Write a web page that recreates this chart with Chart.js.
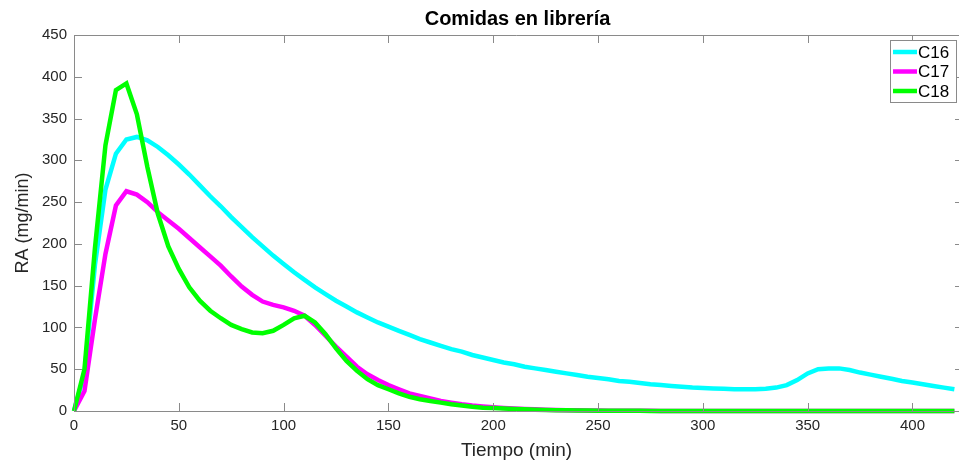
<!DOCTYPE html>
<html>
<head>
<meta charset="utf-8">
<script src="https://cdn.jsdelivr.net/npm/chart.js@4/dist/chart.umd.min.js"></script>
<style>
  html, body { margin: 0; padding: 0; background: #fff; }
  #wrap { width: 959px; height: 462px; }
</style>
</head>
<body>
<div id="wrap"><canvas id="raChart" width="959" height="462"></canvas></div>
<script>
const tiempo = [0, 5, 10, 15, 20, 25, 30, 35, 40, 45, 50, 55, 60, 65, 70, 75, 80, 85, 90, 95,
  100, 105, 110, 115, 120, 125, 130, 135, 140, 145, 150, 155, 160, 165, 170, 175, 180, 185, 190, 195,
  200, 205, 210, 215, 220, 225, 230, 235, 240, 245, 250, 255, 260, 265, 270, 275, 280, 285, 290, 295,
  300, 305, 310, 315, 320, 325, 330, 335, 340, 345, 350, 355, 360, 365, 370, 375, 380, 385, 390, 395,
  400, 405, 410, 415, 420];

const c16 = [0, 45, 175, 265, 308, 325, 328, 324, 316, 306, 295, 283, 270, 257, 245, 232, 220, 208, 197, 186,
  176, 166, 157, 148, 140, 132, 125, 118, 112, 106, 101, 96, 91, 86, 82, 78, 74, 71, 67, 64,
  61, 58, 56, 53, 51, 49, 47, 45, 43, 41, 39.5, 38, 36, 35, 33.5, 32, 31, 30, 29, 28,
  27.5, 27, 26.5, 26, 26, 26, 26.5, 28, 31, 37, 45, 50, 51, 51, 49, 46, 43.5, 41, 38.5, 36,
  34, 32, 30, 28, 26];

const c17 = [0, 24, 110, 188, 246, 263, 259, 250, 238, 228, 218, 207, 196, 185, 174, 161, 149, 139, 131, 127,
  124, 120, 114, 103, 90, 77, 65, 53, 44, 37, 31, 26, 21, 18, 15, 12, 10, 8, 6.5, 5.5,
  4.5, 3.7, 3, 2.5, 2, 1.6, 1.3, 1, 0.8, 0.7, 0.5, 0.4, 0.3, 0.3, 0.2, 0.2, 0.1, 0.1, 0.1, 0.1,
  0.1, 0.1, 0.1, 0.1, 0.1, 0.1, 0.1, 0.1, 0.1, 0.1, 0.1, 0.1, 0.1, 0.1, 0.1, 0.1, 0.1, 0.1, 0.1, 0.1,
  0.1, 0.1, 0.1, 0.1, 0.1];

const c18 = [0, 50, 195, 318, 384, 392, 355, 292, 236, 197, 170, 148, 132, 120, 111, 103, 98, 94, 93, 96,
  103, 111, 114, 106, 92, 75, 60, 48, 38, 31, 26, 21, 17, 14, 12, 10, 8, 6.5, 5, 4,
  3.5, 3, 2.5, 2, 1.6, 1.3, 1, 0.8, 0.6, 0.5, 0.4, 0.3, 0.3, 0.2, 0.2, 0.1, 0.1, 0.1, 0.1, 0.1,
  0.1, 0.1, 0.1, 0.1, 0.1, 0.1, 0.1, 0.1, 0.1, 0.1, 0.1, 0.1, 0.1, 0.1, 0.1, 0.1, 0.1, 0.1, 0.1, 0.1,
  0.1, 0.1, 0.1, 0.1, 0.1];

const series = [
  { label: 'C16', values: c16, color: '#00FFFF', order: 2 },
  { label: 'C17', values: c17, color: '#FF00FF', order: 1 },
  { label: 'C18', values: c18, color: '#00FF00', order: 0 }
];

const chartTitle = 'Comidas en librería';
const axisColor = '#8a8a8a';
const textColor = '#262626';
const fontFamily = '"Liberation Sans", Arial, Helvetica, sans-serif';

// MATLAB-like box with inward ticks, title over the axes, legend box top right
const matlabAxes = {
  id: 'matlabAxes',
  afterDatasetsDraw(chart) {
    const { ctx, chartArea: a, scales } = chart;
    const x = scales.x, y = scales.y;
    const tl = 8;
    ctx.save();
    ctx.strokeStyle = axisColor;
    ctx.lineWidth = 1;
    ctx.beginPath();
    ctx.moveTo(a.right, a.top + 0.5);
    ctx.lineTo(a.left + 0.5, a.top + 0.5);
    ctx.lineTo(a.left + 0.5, a.bottom + 0.5);
    ctx.lineTo(a.right, a.bottom + 0.5);
    x.ticks.forEach(t => {
      const px = Math.round(x.getPixelForValue(t.value)) + 0.5;
      ctx.moveTo(px, a.bottom);
      ctx.lineTo(px, a.bottom - tl);
      ctx.moveTo(px, a.top);
      ctx.lineTo(px, a.top + tl);
    });
    y.ticks.forEach(t => {
      const py = Math.round(y.getPixelForValue(t.value)) + 0.5;
      ctx.moveTo(a.left, py);
      ctx.lineTo(a.left + tl, py);
      ctx.moveTo(a.right, py);
      ctx.lineTo(a.right - 4, py);
    });
    ctx.stroke();

    // title, centred over the axes
    ctx.fillStyle = '#000';
    ctx.font = 'bold 20px ' + fontFamily;
    ctx.textAlign = 'center';
    ctx.textBaseline = 'middle';
    ctx.fillText(chartTitle, (a.left + a.right) / 2 + 1, 19);

    // legend
    const bx = 890, by = 40, bw = 67, bh = 63;
    ctx.fillStyle = '#ffffff';
    ctx.fillRect(bx, by, bw, bh);
    ctx.strokeStyle = '#8a8a8a';
    ctx.strokeRect(bx + 0.5, by + 0.5, bw - 1, bh - 1);
    ctx.font = '17px ' + fontFamily;
    ctx.textBaseline = 'middle';
    ctx.textAlign = 'left';
    series.forEach((s, i) => {
      const ly = 52 + i * 19.5;
      ctx.strokeStyle = s.color;
      ctx.lineWidth = 4.5;
      ctx.beginPath();
      ctx.moveTo(893, ly);
      ctx.lineTo(917, ly);
      ctx.stroke();
      ctx.fillStyle = '#000';
      ctx.fillText(s.label, 918, ly + 1);
    });
    ctx.restore();
  }
};

const ctx = document.getElementById('raChart').getContext('2d');

new Chart(ctx, {
  type: 'line',
  data: {
    datasets: series.map(s => ({
      label: s.label,
      data: tiempo.map((t, i) => ({ x: t, y: s.values[i] })),
      borderColor: s.color,
      backgroundColor: s.color,
      borderWidth: 4.5,
      pointRadius: 0,
      tension: 0,
      fill: false,
      clip: 6,
      order: s.order
    }))
  },
  options: {
    responsive: false,
    animation: false,
    devicePixelRatio: 1,
    layout: { padding: { top: 35, right: 0, bottom: 0, left: 0 } },
    plugins: {
      legend: { display: false },
      tooltip: { enabled: false },
      title: { display: false }
    },
    scales: {
      x: {
        type: 'linear',
        min: 0,
        max: 422.2,
        grid: { display: false, drawTicks: false },
        border: { display: false },
        ticks: {
          stepSize: 50,
          includeBounds: false,
          color: textColor,
          padding: 6,
          maxRotation: 0,
          font: { family: fontFamily, size: 15 }
        },
        title: {
          display: true,
          text: 'Tiempo (min)',
          color: textColor,
          font: { family: fontFamily, size: 19 },
          padding: { top: 5, bottom: 0 }
        },
        afterFit(scale) { scale.height = 51; }
      },
      y: {
        type: 'linear',
        min: 0,
        max: 450,
        grid: { display: false, drawTicks: false },
        border: { display: false },
        ticks: {
          stepSize: 50,
          color: textColor,
          padding: 7,
          font: { family: fontFamily, size: 15 }
        },
        title: {
          display: true,
          text: 'RA (mg/min)',
          color: textColor,
          font: { family: fontFamily, size: 18 },
          padding: { top: 12, bottom: 0 }
        },
        afterFit(scale) { scale.width = 74; }
      }
    }
  },
  plugins: [matlabAxes]
});
</script>
</body>
</html>
